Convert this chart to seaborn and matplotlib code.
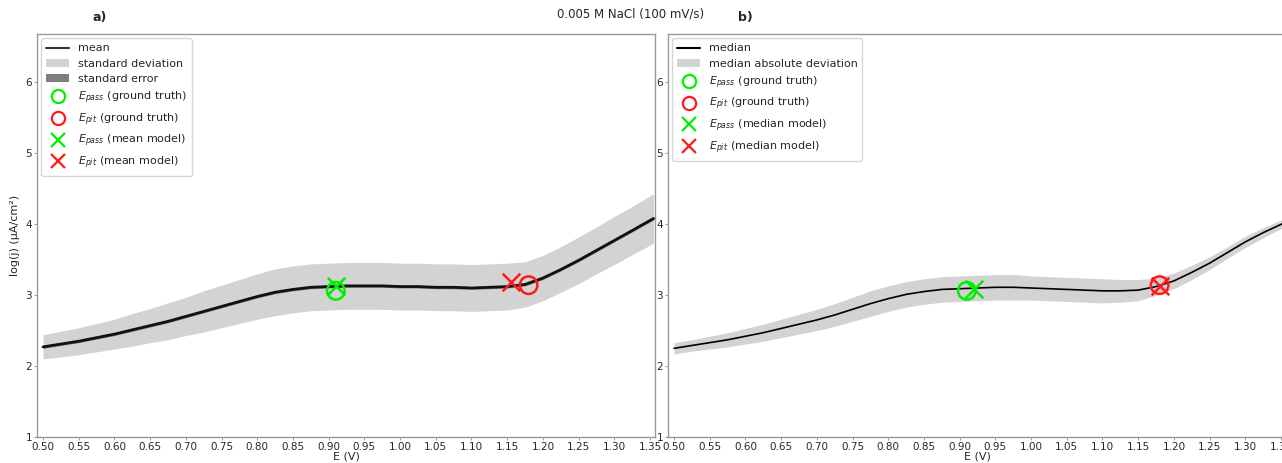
import numpy as np
import pandas as pd
import matplotlib
matplotlib.use("Agg")
import matplotlib.pyplot as plt
import seaborn as sns
from matplotlib.lines import Line2D
from matplotlib.patches import Patch

# ---------------- data ----------------
E = [0.500, 0.525, 0.550, 0.575, 0.600, 0.625, 0.650, 0.675, 0.700, 0.725,
     0.750, 0.775, 0.800, 0.825, 0.850, 0.875, 0.900, 0.925, 0.950, 0.975,
     1.000, 1.025, 1.050, 1.075, 1.100, 1.125, 1.150, 1.175, 1.200, 1.225,
     1.250, 1.275, 1.300, 1.325, 1.355]

mean_logj = [2.27, 2.31, 2.35, 2.40, 2.45, 2.51, 2.57, 2.63, 2.70, 2.77,
             2.84, 2.91, 2.98, 3.04, 3.08, 3.11, 3.12, 3.13, 3.13, 3.13,
             3.12, 3.12, 3.11, 3.11, 3.10, 3.11, 3.12, 3.15, 3.24, 3.36,
             3.49, 3.63, 3.77, 3.91, 4.08]

std_logj = [0.17, 0.18, 0.19, 0.20, 0.21, 0.23, 0.24, 0.26, 0.27, 0.29,
            0.30, 0.31, 0.32, 0.33, 0.33, 0.33, 0.33, 0.33, 0.33, 0.33,
            0.33, 0.33, 0.33, 0.33, 0.33, 0.33, 0.33, 0.32, 0.32, 0.32,
            0.33, 0.33, 0.34, 0.34, 0.35]

sem_logj = [0.02] * 35

median_logj = [2.25, 2.29, 2.33, 2.37, 2.42, 2.47, 2.53, 2.59, 2.65, 2.72,
               2.80, 2.88, 2.95, 3.01, 3.05, 3.08, 3.09, 3.10, 3.11, 3.11,
               3.10, 3.09, 3.08, 3.07, 3.06, 3.06, 3.07, 3.12, 3.20, 3.32,
               3.45, 3.60, 3.75, 3.88, 4.02]

mad_logj = [0.08, 0.08, 0.09, 0.10, 0.11, 0.12, 0.13, 0.14, 0.15, 0.16,
            0.17, 0.18, 0.18, 0.18, 0.18, 0.18, 0.18, 0.18, 0.18, 0.18,
            0.17, 0.17, 0.17, 0.17, 0.17, 0.16, 0.15, 0.12, 0.11, 0.10,
            0.09, 0.08, 0.08, 0.07, 0.06]

# characteristic potentials (E, log j)
a_pass_gt = (0.910, 3.06)
a_pit_gt = (1.180, 3.14)
a_pass_model = (0.910, 3.13)
a_pit_model = (1.155, 3.18)

b_pass_gt = (0.910, 3.06)
b_pit_gt = (1.180, 3.14)
b_pass_model = (0.920, 3.09)
b_pit_model = (1.180, 3.13)

xticks = [0.50, 0.55, 0.60, 0.65, 0.70, 0.75, 0.80, 0.85, 0.90, 0.95, 1.00,
          1.05, 1.10, 1.15, 1.20, 1.25, 1.30, 1.35]
yticks = [1, 2, 3, 4, 5, 6]

# ---------------- style ----------------
sns.set_style("white")
plt.rcParams['font.family'] = ['DejaVu Sans']
plt.rcParams['mathtext.fontset'] = 'dejavusans'

GREEN = '#00ee00'
RED = '#ff1a1a'
BAND = '#d3d3d3'
SEBAND = '#7f7f7f'

df = pd.DataFrame({"E": E, "mean": mean_logj, "std": std_logj, "sem": sem_logj,
                   "median": median_logj, "mad": mad_logj})

fig = plt.figure(figsize=(12.82, 4.63), dpi=100)
axA = fig.add_axes([37/1282, 26/463, 618/1282, 403/463])
axB = fig.add_axes([668/1282, 26/463, 618/1282, 403/463])


def style_axes(ax):
    ax.set_xlim(0.4915, 1.357)
    ax.set_ylim(1, 6.68)
    ax.set_xticks(xticks)
    ax.set_xticklabels([f"{t:.2f}" for t in xticks], fontsize=7.5)
    ax.set_yticks(yticks)
    ax.set_yticklabels([str(t) for t in yticks], fontsize=7.5)
    ax.tick_params(axis='both', length=2.5, width=0.6, color='#888888', pad=1,
                   left=True, bottom=True)
    for s in ax.spines.values():
        s.set_color('#999999')
        s.set_linewidth(1.0)
    ax.set_xlabel("E (V)", fontsize=8, labelpad=0)


def open_circle(ax, pt, color):
    sns.scatterplot(x=[pt[0]], y=[pt[1]], ax=ax, marker='o', s=160,
                    facecolors='none', edgecolors=color, linewidths=1.8, zorder=5)


def cross(ax, pt, color):
    sns.scatterplot(x=[pt[0]], y=[pt[1]], ax=ax, marker='x', s=160,
                    color=color, linewidths=1.8, zorder=6)


LEG_KW = dict(loc='upper left', fontsize=8, frameon=True, borderpad=0.45,
              labelspacing=0.48, handlelength=2.0, handletextpad=0.8,
              borderaxespad=0.4)

# ---- panel a ----
axA.fill_between(df["E"], df["mean"] - df["std"], df["mean"] + df["std"],
                 color=BAND, lw=0, zorder=1)
axA.fill_between(df["E"], df["mean"] - df["sem"], df["mean"] + df["sem"],
                 color=SEBAND, lw=0, zorder=2)
sns.lineplot(data=df, x="E", y="mean", ax=axA, color='#111111', lw=2.0, zorder=3)
open_circle(axA, a_pass_gt, GREEN)
open_circle(axA, a_pit_gt, RED)
cross(axA, a_pass_model, GREEN)
cross(axA, a_pit_model, RED)
style_axes(axA)
axA.set_ylabel("log(j) (µA/cm²)", fontsize=8, labelpad=4)

handlesA = [
    Line2D([], [], color='#333333', lw=1.5),
    Patch(facecolor=BAND, edgecolor='none'),
    Patch(facecolor=SEBAND, edgecolor='none'),
    Line2D([], [], ls='none', marker='o', ms=9.5, mfc='none', mec=GREEN, mew=1.6),
    Line2D([], [], ls='none', marker='o', ms=9.5, mfc='none', mec=RED, mew=1.6),
    Line2D([], [], ls='none', marker='x', ms=9.5, color=GREEN, mew=1.6),
    Line2D([], [], ls='none', marker='x', ms=9.5, color=RED, mew=1.6),
]
labelsA = ["mean", "standard deviation", "standard error",
           r"$E_{pass}$ (ground truth)", r"$E_{pit}$ (ground truth)",
           r"$E_{pass}$ (mean model)", r"$E_{pit}$ (mean model)"]
axA.legend(handlesA, labelsA, **LEG_KW)

# ---- panel b ----
axB.fill_between(df["E"], df["median"] - df["mad"], df["median"] + df["mad"],
                 color=BAND, lw=0, zorder=1)
sns.lineplot(data=df, x="E", y="median", ax=axB, color='#000000', lw=1.2, zorder=3)
open_circle(axB, b_pass_gt, GREEN)
open_circle(axB, b_pit_gt, RED)
cross(axB, b_pass_model, GREEN)
cross(axB, b_pit_model, RED)
style_axes(axB)
axB.set_ylabel("")

handlesB = [
    Line2D([], [], color='#000000', lw=1.5),
    Patch(facecolor=BAND, edgecolor='none'),
    Line2D([], [], ls='none', marker='o', ms=9.5, mfc='none', mec=GREEN, mew=1.6),
    Line2D([], [], ls='none', marker='o', ms=9.5, mfc='none', mec=RED, mew=1.6),
    Line2D([], [], ls='none', marker='x', ms=9.5, color=GREEN, mew=1.6),
    Line2D([], [], ls='none', marker='x', ms=9.5, color=RED, mew=1.6),
]
labelsB = ["median", "median absolute deviation",
           r"$E_{pass}$ (ground truth)", r"$E_{pit}$ (ground truth)",
           r"$E_{pass}$ (median model)", r"$E_{pit}$ (median model)"]
axB.legend(handlesB, labelsB, **LEG_KW)

# ---- texts ----
fig.text(631/1282, 1 - 14/463, "0.005 M NaCl (100 mV/s)", ha='center', va='center',
         fontsize=8.5)
fig.text(100/1282, 1 - 18/463, "a)", ha='center', va='center', fontsize=9,
         fontweight='bold')
fig.text(745/1282, 1 - 18/463, "b)", ha='center', va='center', fontsize=9,
         fontweight='bold')

fig.savefig("out.png", dpi=100, facecolor='white')
